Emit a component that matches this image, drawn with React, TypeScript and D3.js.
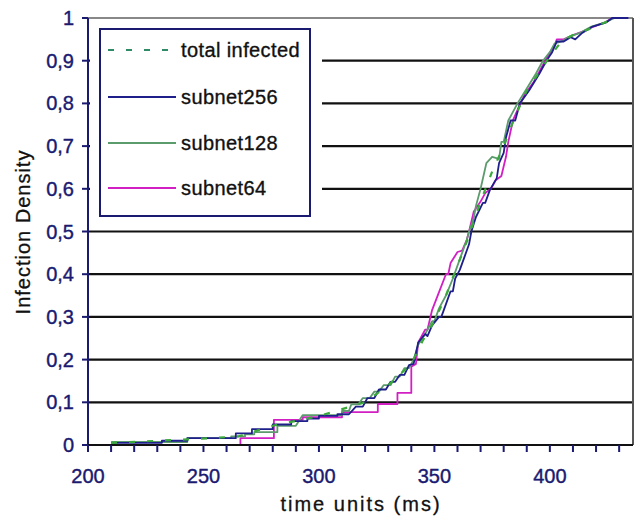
import React, { useEffect, useRef } from 'react';
import * as d3 from 'd3';

// time (ms) and density for each series (step corners listed where visible)
const subnet256Time = [210, 232, 232, 243, 243, 264, 264, 271, 271, 280, 280, 288, 288, 295, 295, 300, 300, 308, 308, 313, 316, 319, 321, 324, 326, 329, 331, 333, 335, 337, 339, 341, 343, 346, 347, 349, 352, 353, 355, 357, 358, 359, 361, 363, 365, 366, 368, 371, 372, 374, 377, 378, 380, 381, 383, 385, 387, 391, 395.5, 398.5, 401, 403, 406, 409, 411, 414, 418.5, 424.5, 427, 434];
const subnet256Value = [0.005, 0.005, 0.01, 0.01, 0.016, 0.016, 0.027, 0.027, 0.037, 0.037, 0.048, 0.048, 0.056, 0.056, 0.062, 0.062, 0.068, 0.068, 0.072, 0.072, 0.09, 0.09, 0.11, 0.11, 0.13, 0.13, 0.148, 0.148, 0.164, 0.164, 0.187, 0.19, 0.24, 0.26, 0.255, 0.28, 0.3, 0.3, 0.33, 0.36, 0.36, 0.39, 0.41, 0.44, 0.47, 0.5, 0.534, 0.567, 0.567, 0.597, 0.625, 0.66, 0.684, 0.72, 0.76, 0.76, 0.8, 0.83, 0.87, 0.9, 0.92, 0.945, 0.945, 0.955, 0.95, 0.965, 0.98, 0.99, 1, 1];

const subnet128Time = [210, 243, 243, 262, 262, 268, 268, 272, 272, 282, 282, 290, 293, 310, 310, 313, 314, 317, 319, 322, 324, 326, 328, 331, 333, 335, 337, 339, 341, 343, 346, 349, 350, 352, 355, 358, 360, 362, 364, 365, 367, 368, 370, 372.5, 375, 378, 379, 380, 382, 386, 390, 394, 397, 400, 402, 405, 408, 413, 418, 424, 428, 432];
const subnet128Value = [0.007, 0.007, 0.016, 0.016, 0.02, 0.02, 0.025, 0.025, 0.03, 0.03, 0.045, 0.045, 0.07, 0.07, 0.08, 0.08, 0.095, 0.095, 0.11, 0.11, 0.125, 0.125, 0.14, 0.14, 0.16, 0.16, 0.18, 0.18, 0.2, 0.235, 0.26, 0.29, 0.29, 0.32, 0.35, 0.39, 0.42, 0.45, 0.48, 0.5, 0.53, 0.56, 0.6, 0.66, 0.675, 0.67, 0.71, 0.71, 0.76, 0.8, 0.835, 0.87, 0.9, 0.92, 0.94, 0.945, 0.955, 0.965, 0.98, 0.99, 1, 1];

const subnet64Time = [266, 266, 280.5, 280.5, 293, 293, 310, 310, 325.5, 325.5, 334, 334, 340, 340, 342, 343, 346, 347, 349, 352, 355, 356, 357, 360, 362, 364, 365, 367, 370, 372, 374.5, 376.5, 379, 381, 382, 384, 386, 389, 393, 396, 399, 402, 403, 406, 410, 415, 419, 424, 427, 430];
const subnet64Value = [0, 0.016, 0.016, 0.059, 0.059, 0.065, 0.065, 0.077, 0.077, 0.096, 0.096, 0.122, 0.122, 0.183, 0.19, 0.24, 0.27, 0.27, 0.316, 0.358, 0.4, 0.4, 0.426, 0.452, 0.455, 0.48, 0.5, 0.546, 0.57, 0.59, 0.6, 0.62, 0.63, 0.675, 0.71, 0.76, 0.785, 0.82, 0.85, 0.88, 0.91, 0.935, 0.95, 0.95, 0.96, 0.97, 0.98, 0.99, 1, 1];

const totalTime = [210, 243, 265, 280, 300, 320, 330, 340, 345, 350, 355, 360, 365, 370, 375, 380, 385, 390, 395, 400, 405, 410, 420, 428];
const totalValue = [0.005, 0.013, 0.02, 0.045, 0.068, 0.1, 0.14, 0.19, 0.245, 0.29, 0.35, 0.42, 0.49, 0.57, 0.64, 0.7, 0.77, 0.83, 0.87, 0.91, 0.945, 0.96, 0.98, 1];

const yTicks = [0, 0.1, 0.2, 0.3, 0.4, 0.5, 0.6, 0.7, 0.8, 0.9, 1];
const xLabels = [200, 250, 300, 350, 400];
const xMinor = [200, 210, 220, 230, 240, 250, 260, 270, 280, 290, 300, 310, 320, 330, 340, 350, 360, 370, 380, 390, 400, 410, 420, 430];

const legendNames = ['total infected', 'subnet256', 'subnet128', 'subnet64'];
const colors = ['#2e8b66', '#1f1f8c', '#5c9c6c', '#d21fc4'];

const font = '"Liberation Sans", Arial, sans-serif';
const navy = '#1a1a70';

export default function App() {
  const ref = useRef<SVGSVGElement>(null);

  useEffect(() => {
    const svg = d3.select(ref.current);
    svg.selectAll('*').remove();

    const left = 88, right = 633, top = 18, bottom = 445;
    const x = d3.scaleLinear().domain([200, 436]).range([left, right]);
    const y = d3.scaleLinear().domain([0, 1]).range([bottom, top]);

    svg.append('rect').attr('width', 636).attr('height', 518).attr('fill', 'white');

    // gridlines
    svg.selectAll('.grid')
      .data(yTicks.filter(d => d > 0 && d < 1))
      .enter()
      .append('line')
      .attr('x1', left).attr('x2', right)
      .attr('y1', d => y(d)).attr('y2', d => y(d))
      .attr('stroke', '#111').attr('stroke-width', 2.2);

    // top and right border
    svg.append('line').attr('x1', left).attr('x2', right).attr('y1', top).attr('y2', top)
      .attr('stroke', '#888').attr('stroke-width', 2);
    svg.append('line').attr('x1', right).attr('x2', right).attr('y1', top).attr('y2', bottom)
      .attr('stroke', '#555').attr('stroke-width', 2);

    // series
    const pts = (t: number[], v: number[]) => t.map((d, i) => [d, v[i]] as [number, number]);
    const line = d3.line<[number, number]>().x(d => x(d[0])).y(d => y(d[1]));

    const series = [
      { data: pts(subnet64Time, subnet64Value), color: colors[3] },
      { data: pts(subnet128Time, subnet128Value), color: colors[2] },
      { data: pts(subnet256Time, subnet256Value), color: colors[1] },
    ];
    series.forEach(s => {
      svg.append('path').attr('d', line(s.data)).attr('fill', 'none')
        .attr('stroke', s.color).attr('stroke-width', 1.8).attr('stroke-linejoin', 'round');
    });
    svg.append('path').attr('d', line(pts(totalTime, totalValue))).attr('fill', 'none')
      .attr('stroke', '#3aa83a').attr('stroke-width', 2.2).attr('stroke-dasharray', '6,12');

    // legend
    svg.append('rect').attr('x', 90).attr('y', 21).attr('width', 232).attr('height', 202).attr('fill', 'white');
    svg.append('rect').attr('x', 100).attr('y', 29).attr('width', 210).attr('height', 187)
      .attr('fill', 'white').attr('stroke', navy).attr('stroke-width', 2);
    const rowY = [50, 97, 143, 188];
    legendNames.forEach((name, i) => {
      svg.append('line').attr('x1', 108).attr('x2', 176).attr('y1', rowY[i]).attr('y2', rowY[i])
        .attr('stroke', colors[i]).attr('stroke-width', i === 0 ? 2.2 : 1.8)
        .attr('stroke-dasharray', i === 0 ? '6,12' : null);
      svg.append('text').attr('x', 181).attr('y', rowY[i] + 7).text(name)
        .attr('font-family', font).attr('font-size', 20).attr('letter-spacing', 0.4)
        .attr('fill', '#111').attr('stroke', '#111').attr('stroke-width', 0.35);
    });

    // axes
    svg.append('line').attr('x1', left).attr('x2', left).attr('y1', top).attr('y2', bottom)
      .attr('stroke', navy).attr('stroke-width', 2);
    svg.append('line').attr('x1', left).attr('x2', right).attr('y1', bottom).attr('y2', bottom)
      .attr('stroke', '#111').attr('stroke-width', 2.2);

    svg.selectAll('.yt').data(yTicks).enter().append('line')
      .attr('x1', left - 6).attr('x2', left).attr('y1', d => y(d)).attr('y2', d => y(d))
      .attr('stroke', navy).attr('stroke-width', 2);
    svg.selectAll('.yl').data(yTicks).enter().append('text')
      .attr('x', 74).attr('y', d => y(d) + 7).attr('text-anchor', 'end')
      .attr('font-family', font).attr('font-size', 20).attr('fill', navy)
      .attr('stroke', navy).attr('stroke-width', 0.4)
      .text(d => (d === 0 ? '0' : d === 1 ? '1' : d.toFixed(1).replace('.', ',')));

    svg.selectAll('.xt').data(xMinor).enter().append('line')
      .attr('x1', d => x(d)).attr('x2', d => x(d)).attr('y1', bottom).attr('y2', bottom + 7)
      .attr('stroke', navy).attr('stroke-width', 2);
    svg.selectAll('.xl').data(xLabels).enter().append('text')
      .attr('x', d => x(d)).attr('y', 483).attr('text-anchor', 'middle')
      .attr('font-family', font).attr('font-size', 20).attr('fill', navy)
      .attr('stroke', navy).attr('stroke-width', 0.4)
      .text(d => String(d));

    svg.append('text').attr('x', 361).attr('y', 511).attr('text-anchor', 'middle')
      .attr('font-family', font).attr('font-size', 20).attr('letter-spacing', 2)
      .attr('fill', '#111').attr('stroke', '#111').attr('stroke-width', 0.3)
      .text('time units (ms)');
    svg.append('text').attr('transform', 'translate(30,232) rotate(-90)').attr('text-anchor', 'middle')
      .attr('font-family', font).attr('font-size', 20).attr('letter-spacing', 1)
      .attr('fill', '#111').attr('stroke', '#111').attr('stroke-width', 0.3)
      .text('Infection Density');
  }, []);

  return <svg ref={ref} width={636} height={518} style={{ position: 'absolute', left: 0, top: 0 }} />;
}
